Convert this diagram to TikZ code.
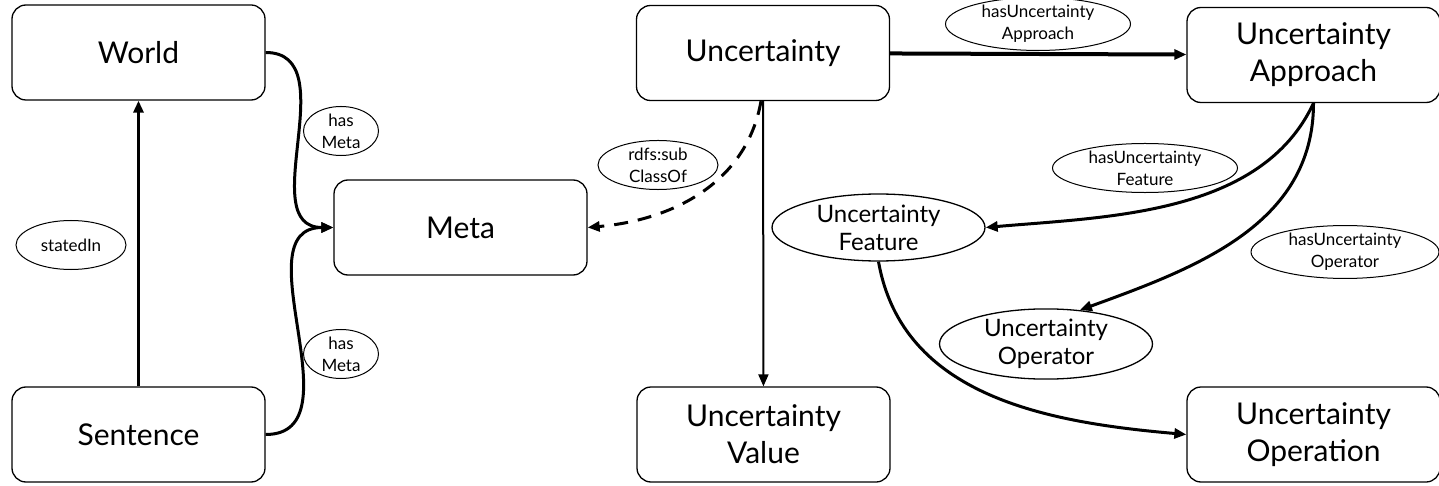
\documentclass[tikz,border=0pt]{standalone}
\usepackage{fontspec}
\setmainfont{Lato}
\usetikzlibrary{shapes.geometric, arrows.meta}

\begin{document}
\begin{tikzpicture}[x=0.5pt, y=-0.5pt,
  box/.style={draw, rounded corners=7pt, minimum width=126.5pt, minimum height=47.5pt, align=center, font=\fontsize{15}{18.5}\selectfont, line width=0.65pt},
  cls/.style={draw, ellipse, inner sep=0pt, minimum width=106.5pt, minimum height=33.5pt, align=center, font=\fontsize{12}{14}\selectfont, line width=0.65pt},
  lbl/.style={draw, ellipse, inner sep=0pt, minimum height=24.5pt, align=center, font=\fontsize{8.5}{11}\selectfont, line width=0.5pt},
  rel/.style={-{Triangle[length=6pt,width=5pt]}, line width=1.5pt}]

\useasboundingbox (0,0) rectangle (1439,486);

% Klassen
\node[box] (world) at (138.5,52.5) {World};
\node[box] (sent) at (138.5,434.5) {Sentence};
\node[box] (meta) at (460.5,227.5) {Meta};
\node[box] (unc) at (763,53) {Uncertainty};
\node[box] (appr) at (1313.5,55) {Uncertainty\\Approach};
\node[box] (val) at (763.5,434.5) {Uncertainty\\Value};
\node[box] (oper) at (1313.5,434.5) {Uncertainty\\Operation};
\node[cls] (feat) at (878.5,227.5) {Uncertainty\\Feature};
\node[cls] (optr) at (1046,344) {Uncertainty\\Operator};

% Beschriftungen der Relationen
\node[lbl, minimum width=55pt] (lstated) at (71,245) {statedIn};
\node[lbl, minimum width=37.5pt] (lmeta1) at (341,131) {has\\Meta};
\node[lbl, minimum width=37.5pt] (lmeta2) at (341,354) {has\\Meta};
\node[lbl, minimum width=60pt] (lsub) at (658,165) {rdfs:sub\\ClassOf};
\node[lbl, minimum width=92.5pt, minimum height=23pt] (lappr) at (1038,24) {hasUncertainty\\Approach};
\node[lbl, minimum width=92.5pt] (lfeat) at (1145,168) {hasUncertainty\\Feature};
\node[lbl, minimum width=94pt] (loptr) at (1345,252) {hasUncertainty\\Operator};

% Relationen
\draw[rel] (sent) -- (world);
\draw[rel] (world.east) to[out=0,in=180,looseness=1.1] (meta.west);
\draw[rel] (sent.east) to[out=0,in=180,looseness=1.1] (meta.west);
\draw[rel, dash pattern=on 7pt off 5pt] ([xshift=-1pt]unc.south) to[out=-100,in=5] (meta.east);
\draw[-{Triangle[length=6pt,width=5pt]}, line width=1pt] (unc) -- (val);
\draw[rel, line width=2pt] (unc) -- (appr);
\draw[rel] (appr.south) to[out=-115,in=5,looseness=0.9] (feat.east);
\draw[rel] (appr.south) to[out=-90,in=20] (optr.45);
\draw[rel] (feat.south) to[out=-80,in=175] (oper.west);

\end{tikzpicture}
\end{document}
